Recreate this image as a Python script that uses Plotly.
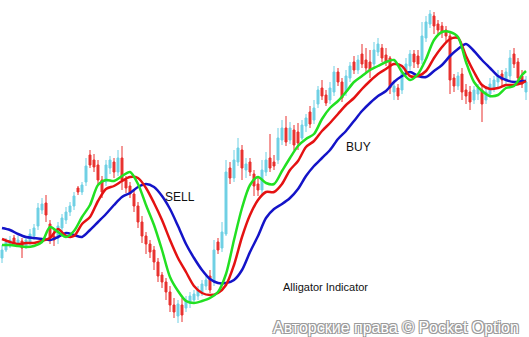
import plotly.graph_objects as go

# ---- candle data (price units) ----
open_ = [82, 90, 94, 102, 96, 99, 94, 98, 104, 114, 130, 137, 116, 104, 102, 112, 120, 128, 134, 152,
         148, 158, 185, 180, 175, 160, 158, 172, 178, 168, 182, 160, 154, 146, 134, 118, 104, 96, 90, 78,
         65, 58, 48, 35, 24, 35, 32, 38, 40, 44, 48, 54, 64, 58, 98, 92, 106, 172, 162, 178,
         190, 170, 178, 166, 156, 150, 168, 182, 178, 180, 200, 212, 200, 210, 208, 202, 214, 228, 220, 236,
         252, 245, 240, 248, 268, 258, 248, 262, 278, 270, 286, 280, 278, 276, 288, 292, 285, 282, 248, 252,
         250, 266, 274, 286, 284, 280, 302, 316, 324, 316, 314, 310, 304, 262, 254, 266, 250, 248, 240, 246,
         250, 240, 246, 252, 258, 266, 260, 264, 286, 278, 264, 248]
close = [90, 98, 100, 97, 100, 92, 100, 106, 112, 132, 136, 125, 102, 100, 114, 122, 128, 134, 144, 148,
         155, 174, 175, 173, 160, 148, 175, 180, 168, 182, 160, 152, 146, 134, 118, 104, 96, 88, 78, 64,
         58, 48, 35, 28, 36, 25, 40, 44, 46, 50, 56, 60, 50, 90, 90, 108, 168, 162, 180, 192,
         172, 176, 168, 154, 150, 170, 180, 172, 174, 202, 212, 198, 212, 195, 197, 215, 222, 216, 232, 250,
         244, 237, 252, 268, 258, 242, 264, 274, 270, 280, 276, 272, 270, 290, 296, 282, 278, 252, 254, 244,
         268, 276, 286, 278, 276, 304, 318, 326, 314, 310, 308, 304, 260, 254, 264, 248, 244, 238, 250, 252,
         236, 248, 256, 260, 264, 260, 268, 282, 276, 262, 256, 258]
high = [95, 102, 104, 105, 104, 102, 103, 111, 116, 137, 142, 145, 120, 110, 118, 126, 133, 138, 148, 154,
        158, 182, 190, 186, 180, 164, 180, 184, 182, 190, 194, 164, 158, 150, 138, 124, 108, 100, 94, 82,
        68, 62, 54, 42, 40, 42, 44, 48, 50, 54, 60, 66, 70, 100, 102, 118, 180, 178, 190, 202,
        195, 182, 182, 170, 162, 180, 188, 206, 185, 212, 220, 224, 218, 215, 217, 220, 226, 234, 240, 254,
        260, 250, 258, 274, 272, 262, 270, 278, 284, 285, 296, 292, 290, 298, 302, 296, 292, 284, 260, 256,
        274, 282, 290, 290, 290, 318, 324, 330, 328, 320, 318, 314, 308, 266, 268, 272, 256, 254, 254, 256,
        254, 254, 262, 264, 270, 270, 272, 290, 292, 282, 270, 264]
low = [77, 88, 92, 94, 93, 82, 91, 95, 100, 110, 126, 118, 96, 94, 96, 108, 116, 124, 130, 145,
       145, 154, 172, 168, 156, 142, 154, 166, 162, 164, 150, 147, 142, 128, 112, 97, 86, 82, 70, 58,
       52, 40, 28, 22, 17, 18, 28, 32, 36, 40, 44, 50, 47, 54, 86, 88, 104, 156, 158, 174,
       160, 162, 164, 144, 144, 146, 164, 168, 170, 176, 195, 194, 196, 190, 190, 200, 208, 212, 216, 232,
       240, 234, 236, 244, 254, 238, 244, 258, 266, 266, 272, 268, 262, 272, 284, 278, 274, 246, 240, 240,
       246, 262, 270, 272, 272, 276, 298, 312, 306, 304, 302, 298, 246, 248, 250, 240, 236, 230, 236, 240,
       218, 236, 242, 248, 252, 254, 254, 260, 272, 256, 252, 240]
bar_idx = list(range(len(open_)))

# ---- Alligator lines (sampled every 2 bars) ----
line_idx = list(range(0, 131, 2)) + [131]
jaw = [112, 110, 106, 103, 102, 101, 100, 103, 107, 105, 103, 110, 118, 126, 135, 143, 147, 153, 156, 153,
       144, 131, 114, 96, 82, 70, 61, 57, 57, 60, 70, 88, 104, 122, 131, 136, 142, 151, 164, 174,
       182, 190, 201, 209, 219, 229, 237, 244, 249, 258, 264, 268, 264, 263, 269, 275, 284, 291, 296, 289,
       280, 272, 264, 260, 258, 259, 259]
teeth = [101, 98, 96, 97, 97, 99, 102, 111, 104, 104, 116, 123, 139, 151, 154, 159, 163, 162, 152, 137,
         120, 100, 82, 68, 54, 47, 45, 47, 55, 75, 103, 125, 140, 148, 148, 156, 170, 179, 193, 199,
         209, 217, 226, 235, 242, 251, 259, 266, 271, 276, 274, 264, 264, 269, 282, 293, 301, 302, 284, 268,
         255, 251, 252, 255, 255, 257, 259]
lips = [95, 95, 94, 93, 94, 98, 113, 108, 103, 109, 123, 135, 155, 160, 159, 164, 168, 156, 135, 115,
        90, 63, 49, 39, 37, 39, 42, 48, 66, 100, 132, 155, 163, 157, 156, 169, 182, 194, 201, 206,
        221, 232, 239, 248, 258, 264, 270, 274, 278, 280, 268, 260, 266, 281, 300, 308, 308, 303, 278, 258,
        249, 244, 245, 252, 254, 265, 269]

fig = go.Figure()
fig.add_trace(go.Candlestick(
    x=bar_idx, open=open_, high=high, low=low, close=close,
    increasing=dict(line=dict(color="#6fd0e4", width=1), fillcolor="#6fd0e4"),
    decreasing=dict(line=dict(color="#e8312f", width=1), fillcolor="#e8312f"),
    whiskerwidth=0, hoverinfo="skip",
))
for vals, col in [(jaw, "#1414c8"), (teeth, "#e41212"), (lips, "#22e022")]:
    fig.add_trace(go.Scatter(x=line_idx, y=vals, mode="lines",
                             line=dict(color=col, width=2.5, shape="spline", smoothing=0.8),
                             hoverinfo="skip"))

font = "Arial, Liberation Sans, sans-serif"
common = dict(xref="paper", yref="paper", showarrow=False, xanchor="center", yanchor="middle")
fig.add_annotation(x=0.340, y=0.415, text="SELL", font=dict(family=font, size=12, color="#111"), **common)
fig.add_annotation(x=0.678, y=0.563, text="BUY", font=dict(family=font, size=12, color="#111"), **common)
fig.add_annotation(x=0.615, y=0.148, text="Alligator Indicator",
                   font=dict(family=font, size=11, color="#111"), **common)
fig.add_annotation(x=0.749, y=0.027, text="Авторские права © Pocket Option",
                   font=dict(family=font, size=16, color="#ffffff",
                             shadow="-1px -1px 0 #9a9a9a, 1px -1px 0 #9a9a9a, -1px 1px 0 #9a9a9a, 1px 1px 0 #9a9a9a"),
                   **common)

fig.update_layout(
    width=529, height=337, margin=dict(l=0, r=0, t=0, b=0),
    paper_bgcolor="white", plot_bgcolor="white", showlegend=False,
    xaxis=dict(visible=False, range=[-0.5, 131.75], rangeslider=dict(visible=False)),
    yaxis=dict(visible=False, range=[3, 340]),
)
fig.write_html("out.html")
